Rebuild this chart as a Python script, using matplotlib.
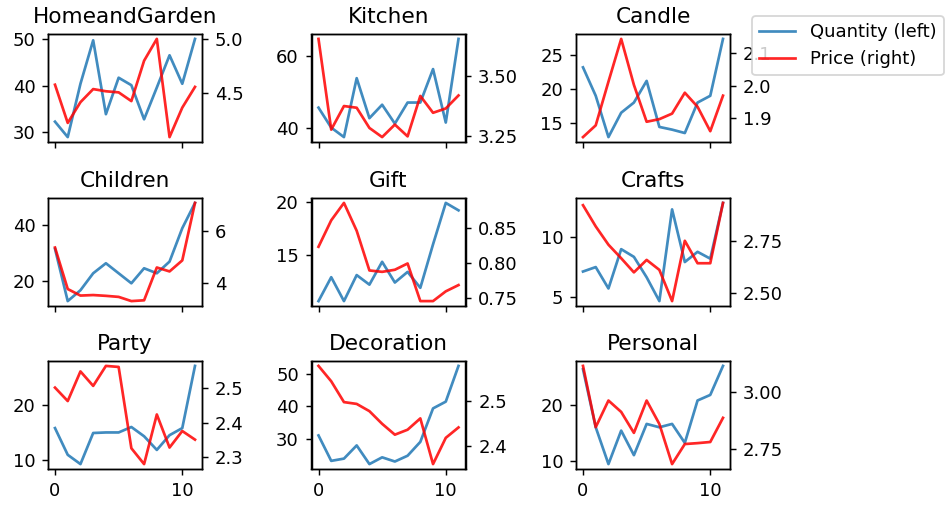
import matplotlib
matplotlib.use("Agg")
import matplotlib.pyplot as plt
import numpy as np

months = list(range(12))
categories = ["HomeandGarden", "Kitchen", "Candle", "Children", "Gift",
              "Crafts", "Party", "Decoration", "Personal"]

qty_homeandgarden = [32.3, 29.0, 40.4, 49.7, 33.9, 41.7, 40.1, 32.8, 39.6, 46.5, 40.4, 50.0]
price_homeandgarden = [4.58, 4.23, 4.42, 4.54, 4.52, 4.51, 4.43, 4.80, 5.00, 4.10, 4.37, 4.56]

qty_kitchen = [45.7, 40.2, 37.6, 53.8, 42.8, 46.5, 41.3, 47.1, 47.1, 56.3, 41.6, 64.6]
price_kitchen = [3.655, 3.278, 3.376, 3.369, 3.285, 3.247, 3.299, 3.250, 3.418, 3.348, 3.366, 3.420]

qty_candle = [23.2, 19.0, 12.9, 16.5, 18.0, 21.2, 14.4, 14.0, 13.5, 18.0, 19.0, 27.4]
price_candle = [1.843, 1.879, 2.013, 2.144, 2.003, 1.890, 1.898, 1.915, 1.979, 1.936, 1.861, 1.970]

qty_children = [31.6, 12.8, 16.7, 22.8, 26.4, 22.8, 19.2, 24.6, 22.8, 27.0, 39.0, 48.1]
price_children = [5.36, 3.78, 3.53, 3.55, 3.52, 3.48, 3.32, 3.35, 4.60, 4.45, 4.87, 7.06]

qty_gift = [10.65, 12.9, 10.65, 13.1, 12.2, 14.35, 12.4, 13.4, 11.9, 16.0, 19.9, 19.2]
price_gift = [0.823, 0.861, 0.886, 0.846, 0.789, 0.787, 0.790, 0.799, 0.745, 0.745, 0.759, 0.768]

qty_crafts = [7.09, 7.46, 5.68, 8.95, 8.31, 6.61, 4.63, 12.26, 7.88, 8.73, 8.16, 12.8]
price_crafts = [2.921, 2.819, 2.731, 2.666, 2.598, 2.658, 2.610, 2.460, 2.750, 2.642, 2.642, 2.932]

qty_party = [15.8, 10.9, 9.2, 14.9, 15.0, 15.0, 16.0, 14.3, 11.8, 14.5, 15.8, 27.2]
price_party = [2.502, 2.463, 2.549, 2.507, 2.565, 2.562, 2.326, 2.280, 2.424, 2.328, 2.376, 2.351]

qty_decoration = [31.0, 23.1, 23.8, 27.9, 22.1, 24.2, 22.9, 24.7, 29.0, 39.4, 41.5, 52.6]
price_decoration = [2.578, 2.544, 2.498, 2.494, 2.478, 2.450, 2.426, 2.437, 2.462, 2.361, 2.419, 2.442]

qty_personal = [26.4, 16.0, 9.4, 15.4, 11.0, 16.6, 16.0, 16.6, 13.2, 20.8, 21.8, 27.0]
price_personal = [3.115, 2.846, 2.963, 2.913, 2.821, 2.963, 2.860, 2.684, 2.772, 2.776, 2.781, 2.887]

quantities = [qty_homeandgarden, qty_kitchen, qty_candle, qty_children, qty_gift,
              qty_crafts, qty_party, qty_decoration, qty_personal]
prices = [price_homeandgarden, price_kitchen, price_candle, price_children, price_gift,
          price_crafts, price_party, price_decoration, price_personal]

DPI = 130
fig = plt.figure(figsize=(947 / DPI, 506 / DPI), dpi=DPI)

W, H = 947.0, 506.0
col_left = [48, 311.5, 576]
row_top = [34, 198, 361]
aw, ah = 154, 108

blue = "#1f77b4"
handles = None
for i, cat in enumerate(categories):
    r, c = divmod(i, 3)
    ax = fig.add_axes([col_left[c] / W, 1 - (row_top[r] + ah) / H, aw / W, ah / H])
    l1, = ax.plot(months, quantities[i], color=blue, alpha=0.85, lw=1.5, label="Quantity (left)")
    ax2 = ax.twinx()
    l2, = ax2.plot(months, prices[i], color="red", alpha=0.85, lw=1.5, label="Price (right)")
    ax.set_title(cat, fontsize=12)
    ax.set_xticks([0, 10])
    if r < 2:
        ax.set_xticklabels([])
    handles = [l1, l2]

fig.legend(handles, [h.get_label() for h in handles], loc="upper left",
           bbox_to_anchor=(752 / W, 1 - 16 / H), borderaxespad=0, fontsize=10)

fig.savefig("out.png", dpi=DPI)
